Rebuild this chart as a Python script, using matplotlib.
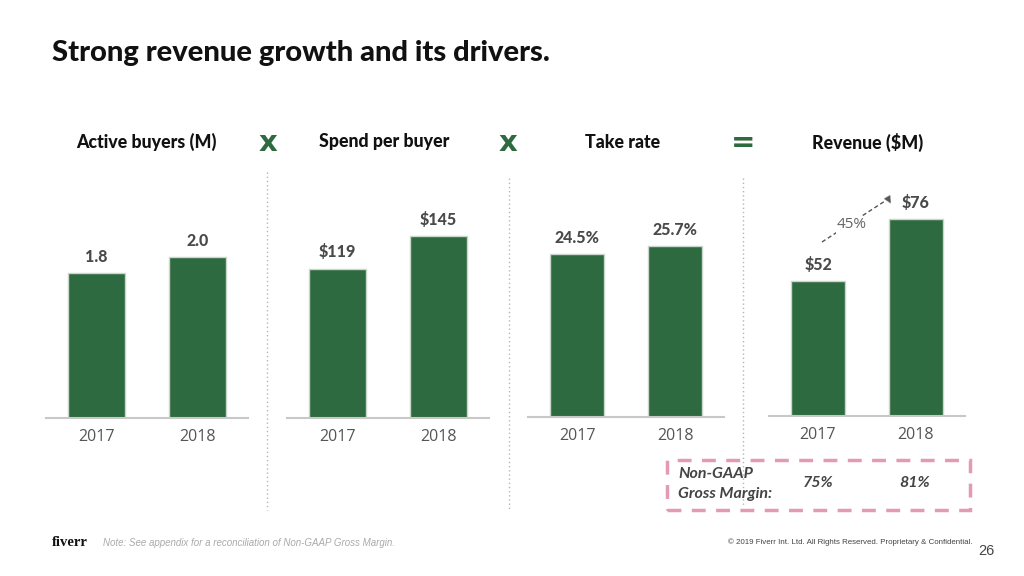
import matplotlib.pyplot as plt
from matplotlib.patches import Rectangle

years = ["2017", "2018"]
titles = ["Active buyers (M)", "Spend per buyer", "Take rate", "Revenue ($M)"]
buyers = [1.8, 2.0]
spend = [119, 145]
take_rate = [24.5, 25.7]
revenue = [52, 76]
labels = [["1.8", "2.0"], ["$119", "$145"], ["24.5%", "25.7%"], ["$52", "$76"]]
margin_labels = ["75%", "81%"]

green = "#2e6a3f"
W, H = 1024, 576

fig = plt.figure(figsize=(10.24, 5.76), dpi=100)
fig.patch.set_facecolor("white")

def fx(px):
    return px / W

def fy(py):
    return 1 - py / H

# slide title
fig.text(fx(52), fy(53), "Strong revenue growth and its drivers.", fontsize=21,
         fontweight="black", family="Lato", color="#111111", va="center")

# panels: left px, baseline px, width px, ylim top
panels = [(46, 418, 202, 3.08), (287, 418, 202, 197.6),
          (528, 417, 196, 37.1), (769, 416, 196, 94.9)]
series = [buyers, spend, take_rate, revenue]
title_x = [146, 384, 623, 868]

for i, (left, base, wpx, ymax) in enumerate(panels):
    ax = fig.add_axes([fx(left), fy(base), fx(wpx), (base - 170) / H])
    vals = series[i]
    ax.bar([0, 1], vals, width=0.56, color=green, edgecolor="#c9d6cb", linewidth=1)
    ax.set_xlim(-0.5, 1.5)
    ax.set_ylim(0, ymax)
    for s in ["top", "right", "left"]:
        ax.spines[s].set_visible(False)
    ax.spines["bottom"].set_color("#c8c8c8")
    ax.spines["bottom"].set_linewidth(1.5)
    ax.set_yticks([])
    ax.set_xticks([0, 1])
    ax.set_xticklabels(years, fontsize=11.5, color="#555555", family="Open Sans")
    ax.tick_params(axis="x", length=0, pad=8)
    for j, v in enumerate(vals):
        ax.annotate(labels[i][j], (j, v), xytext=(0, 6), textcoords="offset points",
                    ha="center", va="bottom", fontsize=11.5, fontweight="black",
                    color="#4a4a4a", family="Lato")
    fig.text(fx(title_x[i]), fy(142), titles[i], ha="center", va="center",
             fontsize=12.8, fontweight="black", family="Lato", color="#111111")

# operators between panel titles
for x, sym in [(268, "x"), (508, "x"), (743, "=")]:
    fig.text(fx(x), fy(143), sym, ha="center", va="center", fontsize=21,
             fontweight="heavy", family="DejaVu Sans", color=green)

# dotted separators
for x, y0, y1 in [(267, 172, 510), (509, 178, 510), (743, 178, 505)]:
    fig.add_artist(plt.Line2D([fx(x), fx(x)], [fy(y0), fy(y1)], color="#b5b5b5",
                              linestyle=(0, (1, 2)), linewidth=1))

# growth arrow on revenue panel
fig.add_artist(plt.Line2D([fx(822), fx(885)], [fy(242), fy(201)], color="#555555",
                          linestyle=(0, (3, 2)), linewidth=1))
fig.text(fx(889), fy(199), "\u25bc", rotation=30, ha="center", va="center",
         fontsize=7, color="#555555")
fig.text(fx(852), fy(225), "45%", ha="center", va="center", fontsize=11,
         color="#666666", family="Open Sans",
         bbox=dict(facecolor="white", edgecolor="none", pad=1))

# non-GAAP gross margin box
fig.add_artist(Rectangle((fx(667), fy(510)), fx(303), (510 - 460) / H,
                         transform=fig.transFigure, fill=False, edgecolor="#e49ab3",
                         linewidth=2.5, linestyle=(0, (4, 3))))
fig.text(fx(678), fy(484), "Non-GAAP\nGross Margin:", ha="left", va="center",
         fontsize=11.5, fontweight="bold", style="italic", family="Lato",
         color="#444444", linespacing=1.5)
for x, lab in zip([818, 915], margin_labels):
    fig.text(fx(x), fy(483), lab, ha="center", va="center", fontsize=11.5,
             fontweight="bold", style="italic", family="Lato", color="#444444")

# footer
fig.text(fx(52), fy(543), "fiverr", ha="left", va="center", fontsize=10.5,
         fontweight="bold", family="Liberation Serif", color="#111111")
fig.text(fx(103), fy(543), "Note: See appendix for a reconciliation of Non-GAAP Gross Margin.",
         ha="left", va="center", fontsize=7, style="italic", color="#aaaaaa",
         family="Liberation Sans")
fig.text(fx(972), fy(542), "\u00a9 2019 Fiverr Int. Ltd. All Rights Reserved. Proprietary & Confidential.",
         ha="right", va="center", fontsize=5.7, color="#444444", family="Liberation Sans")
fig.text(fx(986), fy(551), "26", ha="center", va="center", fontsize=10.5,
         color="#444444", family="Liberation Sans")

fig.savefig("out.png", dpi=100)
